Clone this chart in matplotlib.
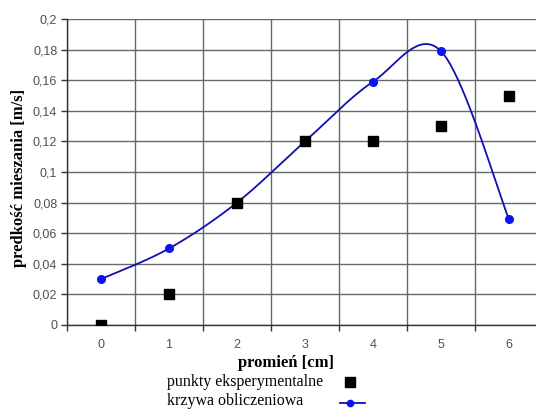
import numpy as np
import matplotlib
matplotlib.use("Agg")
from matplotlib import pyplot
from matplotlib.lines import Line2D

radius = [0, 1, 2, 3, 4, 5, 6]
measured = [0.0, 0.02, 0.08, 0.12, 0.12, 0.13, 0.15]
computed = [0.03, 0.05, 0.08, 0.12, 0.159, 0.179, 0.069]
y_ticks = [0, 0.02, 0.04, 0.06, 0.08, 0.1, 0.12, 0.14, 0.16, 0.18, 0.2]
y_labels = ["0", "0,02", "0,04", "0,06", "0,08", "0,1", "0,12", "0,14", "0,16", "0,18", "0,2"]
legend_labels = ["punkty eksperymentalne", "krzywa obliczeniowa"]

line_col = "#1010b0"
point_col = "#0a14f0"


def smooth(xs, ys, n=40):
    # Excel-like smoothed line: bezier with catmull-rom control points
    pts = np.column_stack([xs, ys]).astype(float)
    ext = np.vstack([pts[0], pts, pts[-1]])
    out = []
    for i in range(len(pts) - 1):
        p0, p1, p2, p3 = ext[i], ext[i + 1], ext[i + 2], ext[i + 3]
        c1 = p1 + (p2 - p0) / 6
        c2 = p2 - (p3 - p1) / 6
        t = np.linspace(0, 1, n)[:, None]
        seg = (1 - t) ** 3 * p1 + 3 * (1 - t) ** 2 * t * c1 + 3 * (1 - t) * t ** 2 * c2 + t ** 3 * p2
        out.append(seg)
    seg = np.vstack(out)
    return seg[:, 0], seg[:, 1]


fig = pyplot.figure(figsize=(5.36, 4.09), dpi=100)
ax = fig.add_axes([0.125, 0.2054, 0.888, 0.7481])

grid_col = "#686868"
sx, sy = smooth(radius, computed)
ax.plot(sx, sy, color=line_col, linewidth=1.3, zorder=3)
ax.plot(radius, computed, "o", color=point_col, markersize=5.5, zorder=4)
ax.plot(radius, measured, "s", color="black", markersize=7.5, zorder=5, linestyle="none")

ax.set_xlim(-0.5, 6.5)
ax.set_ylim(0, 0.2)
ax.set_yticks(y_ticks)
ax.set_yticklabels(y_labels)
ax.set_xticks(np.arange(-0.5, 7, 1))
ax.set_xticklabels([])
ax.set_xticks(radius, minor=True)
ax.set_xticklabels([str(r) for r in radius], minor=True)
ax.tick_params(axis="x", which="major", length=4, color="#333333", width=1)
ax.tick_params(axis="x", which="minor", length=0, pad=10)
ax.tick_params(axis="y", length=4, color="#333333", width=1, pad=3)
for lab in ax.get_xticklabels(minor=True) + ax.get_yticklabels():
    lab.set_family("Liberation Sans")
    lab.set_fontsize(9)
    lab.set_color("#505050")

ax.grid(True, which="major", color=grid_col, linewidth=1)
ax.set_axisbelow(True)
for side in ["top", "right"]:
    ax.spines[side].set_visible(False)
for side in ["left", "bottom"]:
    ax.spines[side].set_color("#333333")
    ax.spines[side].set_linewidth(1)

ax.set_xlabel("promień [cm]", family="Liberation Serif", fontweight="bold", fontsize=12)
ax.xaxis.set_label_coords(0.46, -0.123)
ax.xaxis.label.set_va("center")
ax.set_ylabel("predkość mieszania [m/s]", family="Liberation Serif", fontweight="bold", fontsize=12)
ax.yaxis.set_label_coords(-0.1, 0.48)
ax.yaxis.label.set_va("center")

# legend: labels left-aligned, keys to the right
row_y = [1 - 382 / 409, 1 - 401 / 409]
for label, y in zip(legend_labels, row_y):
    fig.text(0.3116, y, label, family="Liberation Serif", fontsize=11.5, va="center", ha="left")
fig.add_artist(Line2D([0.653], [row_y[0]], transform=fig.transFigure, marker="s",
                      color="black", markersize=7.5, linestyle="none"))
fig.add_artist(Line2D([0.634, 0.653, 0.681], [row_y[1] - 0.006] * 3, transform=fig.transFigure,
                      color=line_col, linewidth=1.3, marker="o", markevery=[1],
                      markerfacecolor=point_col, markeredgecolor=point_col, markersize=4.5))

pyplot.savefig("out.png", dpi=100)
